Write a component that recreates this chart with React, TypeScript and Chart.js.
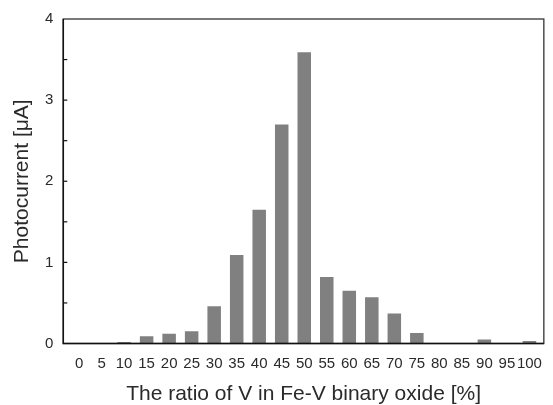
import React, { useEffect, useRef } from "react";
import { Chart, registerables } from "chart.js";

Chart.register(...registerables);

const ratios = [0, 5, 10, 15, 20, 25, 30, 35, 40, 45, 50, 55, 60, 65, 70, 75, 80, 85, 90, 95, 100];
const photocurrent = [0, 0, 0.02, 0.09, 0.12, 0.15, 0.46, 1.09, 1.65, 2.7, 3.59, 0.82, 0.65, 0.57, 0.37, 0.13, 0, 0, 0.05, 0, 0.03];
const yTickValues = [0, 1, 2, 3, 4];
const yMinorTicks = [0.5, 1, 1.5, 2, 2.5, 3, 3.5];
const xTitle = "The ratio of V in Fe-V binary oxide [%]";
const yTitle = "Photocurrent [\u03bcA]";

const FONT = "'Liberation Sans', Arial, sans-serif";
const TEXT = "#2a2a2a";

const framePlugin = {
  id: "frame",
  afterDraw(chart: any) {
    const { ctx, chartArea } = chart;
    const y = chart.scales.y;
    ctx.save();
    ctx.strokeStyle = "#333";
    ctx.lineWidth = 1.3;
    ctx.strokeRect(chartArea.left, chartArea.top, chartArea.right - chartArea.left, chartArea.bottom - chartArea.top);
    ctx.strokeStyle = "#111";
    ctx.lineWidth = 1.5;
    ctx.beginPath();
    ctx.moveTo(chartArea.left, chartArea.top);
    ctx.lineTo(chartArea.left, chartArea.bottom);
    ctx.lineTo(chartArea.right, chartArea.bottom);
    ctx.stroke();
    ctx.lineWidth = 1.2;
    for (const v of yMinorTicks) {
      const py = y.getPixelForValue(v);
      ctx.beginPath();
      ctx.moveTo(chartArea.left, py);
      ctx.lineTo(chartArea.left + 4, py);
      ctx.stroke();
    }
    ctx.restore();
  },
};

export default function App() {
  const ref = useRef<HTMLCanvasElement | null>(null);
  useEffect(() => {
    document.body.style.margin = "0";
    const canvas = ref.current!;
    const chart = new Chart(canvas, {
      type: "bar",
      data: {
        datasets: [
          {
            data: ratios.map((r, i) => ({ x: r, y: photocurrent[i] })),
            backgroundColor: "#808080",
            borderWidth: 0,
            barPercentage: 0.6,
            categoryPercentage: 1,
          },
        ],
      },
      options: {
        animation: false,
        responsive: false,
        maintainAspectRatio: false,
        layout: { padding: { top: 19, right: 2, left: 0, bottom: 0 } },
        plugins: { legend: { display: false }, tooltip: { enabled: false } },
        scales: {
          x: {
            type: "linear",
            offset: false,
            min: -3.5,
            max: 103.2,
            grid: { display: false, drawTicks: false },
            border: { display: false },
            afterBuildTicks: (scale: any) => {
              scale.ticks = ratios.map((v) => ({ value: v }));
            },
            ticks: {
              autoSkip: false,
              maxRotation: 0,
              minRotation: 0,
              padding: 11,
              color: TEXT,
              font: { family: FONT, size: 15 },
              callback: (v: any) => String(v),
            },
            title: {
              display: true,
              text: xTitle,
              color: TEXT,
              font: { family: FONT, size: 21, lineHeight: 1 },
              padding: { top: 0, bottom: 0 },
            },
            afterFit: (scale: any) => {
              scale.height = 61.5;
            },
          },
          y: {
            min: 0,
            max: 4,
            grid: { display: false, drawTicks: false },
            border: { display: false },
            afterBuildTicks: (scale: any) => {
              scale.ticks = yTickValues.map((v) => ({ value: v }));
            },
            ticks: {
              padding: 10,
              color: TEXT,
              font: { family: FONT, size: 15 },
            },
            title: {
              display: true,
              text: yTitle,
              color: TEXT,
              font: { family: FONT, size: 21, lineHeight: 1 },
              padding: { top: 11.5, bottom: 0 },
            },
            afterFit: (scale: any) => {
              scale.width = 63.3;
            },
          },
        },
      },
      plugins: [framePlugin],
    });
    return () => chart.destroy();
  }, []);
  return <canvas ref={ref} width={553} height={405} style={{ display: "block" }} />;
}
